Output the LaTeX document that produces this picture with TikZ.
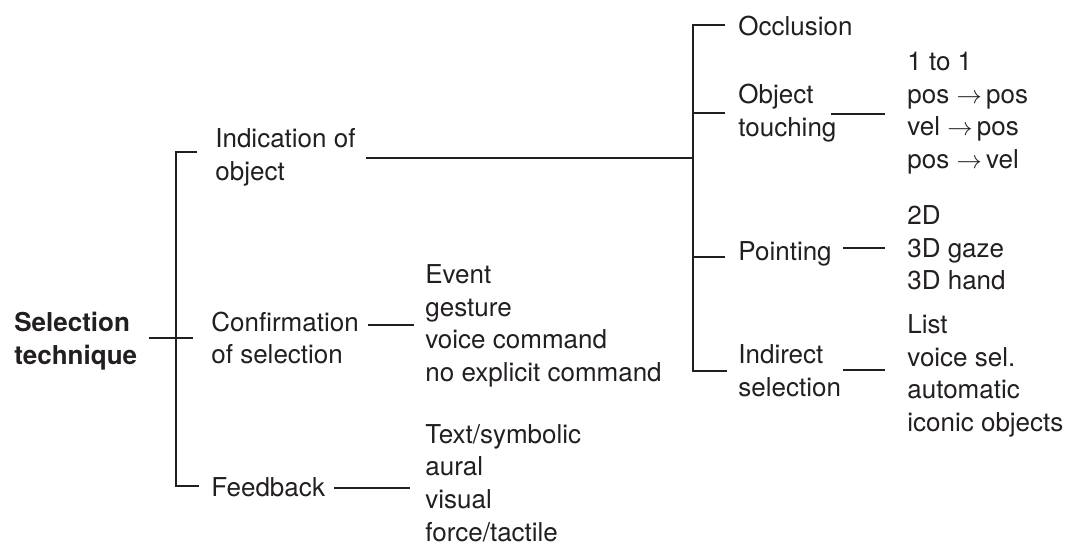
\documentclass[tikz,border=0pt]{standalone}
\usepackage{fontspec}
\setmainfont{TeX Gyre Heros}
\usepackage{tikz}
\usetikzlibrary{positioning,calc}
\usepackage{xcolor}
\definecolor{ink}{RGB}{35,31,32}
\newcommand{\treefont}{\fontsize{14.8}{18.6}\selectfont}

\begin{document}
\begin{tikzpicture}[x=0.02cm,y=-0.02cm,
  every node/.style={font=\treefont,text=ink,inner sep=0pt,anchor=west,align=left},
  link/.style={draw=ink,line width=0.8pt}]
\useasboundingbox (0,0) rectangle (1067,547);

% root and first level
\node[font=\treefont\bfseries] (sel) at (14,341) {Selection\\technique};
\node (ind) at (215,157) {Indication of\\object};
\node (conf) at (211,338) {Confirmation\\of selection};
\node (fb) at (211,487) {Feedback};

% leaves of confirmation and feedback
\node (conflist) at (425,326) {Event\\gesture\\voice command\\no explicit command};
\node (fblist) at (425,483) {Text/symbolic\\aural\\visual\\force/tactile};

% indication of object
\node (occ) at (738,26) {Occlusion};
\node (touch) at (738,113) {Object\\touching};
\node (touchlist) at (907,113) {1 to 1\\pos $\rightarrow$\,pos\\vel $\rightarrow$\,pos\\pos $\rightarrow$\,vel};
\node (point) at (738,254) {Pointing};
\node (pointlist) at (907,248) {2D\\3D gaze\\3D hand};
\node (indir) at (738,371) {Indirect\\selection};
\node (indirlist) at (907,376) {List\\voice sel.\\automatic\\iconic objects};

\coordinate (j1) at (176,338);
\coordinate (j2) at (693,158);

% brackets
\draw[link] ($(ind.west)+(-18,-5)$) -| (j1) |- ($(fb.west)+(-12,-1)$);
\draw[link] ($(sel.east)+(11,-3)$) -- ($(conf.west)+(-18,0)$);
\draw[link] ($(ind.east)+(10,1)$) -- (j2);
\draw[link] ($(occ.west)+(-13,-1)$) -| (j2) |- ($(indir.west)+(-11,0)$);
\draw[link] ($(touch.west)+(-13,0)$) -- (touch.west -| j2);
\draw[link] ($(point.west)+(-13,3)$) -- ($(point.west -| j2)+(0,3)$);

% leaf connectors
\draw[link] ($(conf.west)+(157,-13)$) -- ($(conflist.west)+(-11,-1)$);
\draw[link] ($(fb.west)+(123,1)$) -- ($(fblist.west)+(-15,5)$);
\draw[link] ($(touch.west)+(93,1)$) -- ($(touchlist.west)+(-22,1)$);
\draw[link] ($(point.west)+(105,-6)$) -- ($(pointlist.west)+(-22,0)$);
\draw[link] ($(indir.west)+(105,-1)$) -- ($(indirlist.west)+(-22,-6)$);
\end{tikzpicture}
\end{document}
